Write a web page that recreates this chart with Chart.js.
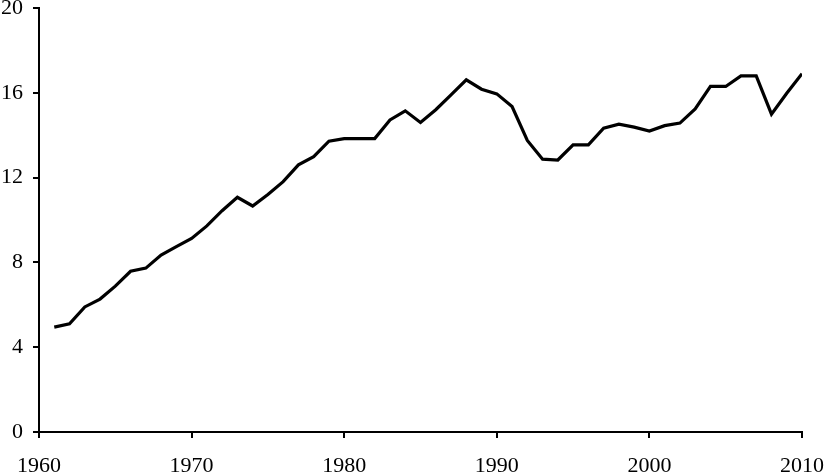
<!DOCTYPE html>
<html>
<head>
<meta charset="utf-8">
<script src="https://cdn.jsdelivr.net/npm/chart.js@4"></script>
<style>
  html, body { margin: 0; padding: 0; background: #fff; }
  #wrap { width: 825px; height: 474px; }
</style>
</head>
<body>
<div id="wrap"><canvas id="lineChart" width="825" height="474"></canvas></div>
<script>
// years on the x axis
const years = [1961, 1962, 1963, 1964, 1965, 1966, 1967, 1968, 1969, 1970,
    1971, 1972, 1973, 1974, 1975, 1976, 1977, 1978, 1979, 1980,
    1981, 1982, 1983, 1984, 1985, 1986, 1987, 1988, 1989, 1990,
    1991, 1992, 1993, 1994, 1995, 1996, 1997, 1998, 1999, 2000,
    2001, 2002, 2003, 2004, 2005, 2006, 2007, 2008, 2009, 2010];

// values
const values = [4.95, 5.1, 5.9, 6.27, 6.88, 7.58, 7.73, 8.35, 8.74, 9.13,
    9.72, 10.44, 11.07, 10.66, 11.2, 11.81, 12.6, 12.99, 13.72, 13.84,
    13.84, 13.84, 14.72, 15.15, 14.6, 15.2, 15.9, 16.61, 16.17, 15.95,
    15.35, 13.75, 12.87, 12.83, 13.54, 13.54, 14.33, 14.52, 14.38, 14.2,
    14.45, 14.57, 15.24, 16.3, 16.3, 16.8, 16.8, 14.99, 15.98, 16.9];

const xTicks = [1960, 1970, 1980, 1990, 2000, 2010];
const yTicks = [0, 4, 8, 12, 16, 20];

const tickFont = { family: '"Liberation Serif", "Times New Roman", serif', size: 22 };

const ctx = document.getElementById('lineChart').getContext('2d');

new Chart(ctx, {
    type: 'line',
    data: {
        datasets: [{
            data: years.map((y, i) => ({ x: y, y: values[i] })),
            borderColor: '#000',
            borderWidth: 3.2,
            pointRadius: 0,
            tension: 0,
            fill: false
        }]
    },
    options: {
        responsive: false,
        animation: false,
        layout: { padding: { top: 8, right: 23, left: 0, bottom: 0 } },
        plugins: { legend: { display: false }, tooltip: { enabled: false } },
        scales: {
            x: {
                type: 'linear',
                min: xTicks[0],
                max: xTicks[xTicks.length - 1],
                afterBuildTicks: s => { s.ticks = xTicks.map(v => ({ value: v })); },
                afterFit: s => {
                    s.height = 42;
                    s.paddingLeft = 0;
                    s.paddingRight = 0;
                },
                border: { color: '#000', width: 2 },
                grid: { drawOnChartArea: false, drawTicks: true, tickLength: 6, color: '#000', lineWidth: 2 },
                ticks: {
                    color: '#000', font: tickFont, padding: 15, maxRotation: 0, autoSkip: false,
                    callback: v => String(v)
                }
            },
            y: {
                min: yTicks[0],
                max: yTicks[yTicks.length - 1],
                afterBuildTicks: s => { s.ticks = yTicks.map(v => ({ value: v })); },
                afterFit: s => {
                    s.width = 39;
                    s.paddingTop = 0;
                    s.paddingBottom = 0;
                },
                border: { color: '#000', width: 2 },
                grid: { drawOnChartArea: false, drawTicks: true, tickLength: 6, color: '#000', lineWidth: 2 },
                ticks: { color: '#000', font: tickFont, padding: 10, callback: v => String(v) }
            }
        }
    }
});
</script>
</body>
</html>
